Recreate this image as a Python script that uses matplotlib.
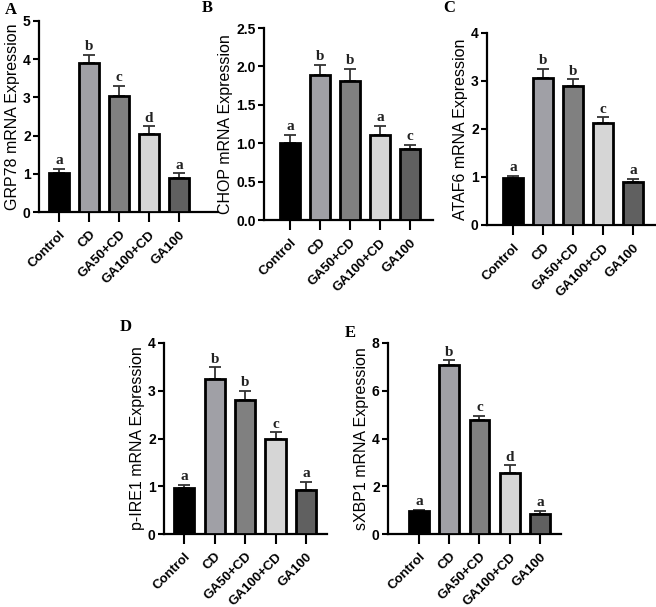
import matplotlib
matplotlib.use("Agg")
import matplotlib.pyplot as plt

groups = ["Control", "CD", "GA50+CD", "GA100+CD", "GA100"]
bar_colors = ["#000000", "#a0a0a6", "#808080", "#d6d6d6", "#606060"]

grp78 = [1.01, 3.91, 3.04, 2.03, 0.88]
grp78_err = [0.12, 0.20, 0.26, 0.22, 0.13]
grp78_sig = ["a", "b", "c", "d", "a"]

chop = [1.00, 1.89, 1.81, 1.11, 0.92]
chop_err = [0.11, 0.13, 0.16, 0.12, 0.06]
chop_sig = ["a", "b", "b", "a", "c"]

ataf6 = [0.98, 3.07, 2.89, 2.13, 0.89]
ataf6_err = [0.05, 0.18, 0.15, 0.11, 0.07]
ataf6_sig = ["a", "b", "b", "c", "a"]

pire1 = [0.97, 3.24, 2.80, 1.98, 0.92]
pire1_err = [0.06, 0.25, 0.20, 0.15, 0.17]
pire1_sig = ["a", "b", "b", "c", "a"]

sxbp1 = [0.98, 7.06, 4.79, 2.57, 0.85]
sxbp1_err = [0.03, 0.22, 0.17, 0.31, 0.13]
sxbp1_sig = ["a", "b", "c", "d", "a"]

W, H = 656, 607
fig = plt.figure(figsize=(W / 100, H / 100), dpi=100)
fig.patch.set_facecolor("white")

panels = [
    dict(letter="A", vals=grp78, err=grp78_err, sig=grp78_sig, ylabel="GRP78 mRNA Expression",
         box=(39, 218, 21, 212), ylim=(0, 5), yticks=[0, 1, 2, 3, 4, 5], fmt="{:.0f}",
         xlim=(-0.67, 5.3), lpos=(5, 10)),
    dict(letter="B", vals=chop, err=chop_err, sig=chop_sig, ylabel="CHOP mRNA Expression",
         box=(264, 433, 28, 220), ylim=(0, 2.5), yticks=[0, 0.5, 1.0, 1.5, 2.0, 2.5], fmt="{:.1f}",
         xlim=(-0.87, 4.77), lpos=(202, 8)),
    dict(letter="C", vals=ataf6, err=ataf6_err, sig=ataf6_sig, ylabel="ATAF6 mRNA Expression",
         box=(487, 655, 33, 225), ylim=(0, 4), yticks=[0, 1, 2, 3, 4], fmt="{:.0f}",
         xlim=(-0.87, 4.73), lpos=(443, 8)),
    dict(letter="D", vals=pire1, err=pire1_err, sig=pire1_sig, ylabel="p-IRE1 mRNA Expression",
         box=(164, 327, 343, 534), ylim=(0, 4), yticks=[0, 1, 2, 3, 4], fmt="{:.0f}",
         xlim=(-0.66, 4.69), lpos=(120, 327)),
    dict(letter="E", vals=sxbp1, err=sxbp1_err, sig=sxbp1_sig, ylabel="sXBP1 mRNA Expression",
         box=(388, 561, 343, 534), ylim=(0, 8), yticks=[0, 2, 4, 6, 8], fmt="{:.0f}",
         xlim=(-1.02, 4.69), lpos=(345, 333)),
]

sans = ["Liberation Sans", "DejaVu Sans"]
serif = ["Liberation Serif", "DejaVu Serif"]

for p in panels:
    x0, x1, y0, y1 = p["box"]
    ax = fig.add_axes([x0 / W, 1 - y1 / H, (x1 - x0) / W, (y1 - y0) / H])
    xs = list(range(len(groups)))
    ax.bar(xs, p["vals"], width=0.66, color=bar_colors, edgecolor="black", linewidth=2.0, zorder=3)
    ax.errorbar(xs, p["vals"], yerr=[[0] * len(xs), p["err"]], fmt="none", ecolor="#333333",
                elinewidth=1.3, capsize=4, capthick=1.3, zorder=2)
    span = p["ylim"][1] - p["ylim"][0]
    for xi, v, e, s in zip(xs, p["vals"], p["err"], p["sig"]):
        ax.text(xi, v + e + span * 0.008, s, ha="center", va="bottom", fontsize=11,
                fontweight="bold", family=serif, color="#222222", zorder=4)
    ax.set_xlim(*p["xlim"])
    ax.set_ylim(*p["ylim"])
    ax.set_yticks(p["yticks"])
    ax.set_yticklabels([p["fmt"].format(t) for t in p["yticks"]], fontsize=10, fontweight="bold", family=sans)
    ax.set_xticks(xs)
    ax.set_xticklabels(groups, rotation=45, ha="right", rotation_mode="anchor", fontsize=9.5,
                       fontweight="bold", family=sans)
    ax.set_ylabel(p["ylabel"], fontsize=11.5, family=sans, labelpad=2)
    for sp in ["top", "right"]:
        ax.spines[sp].set_visible(False)
    for sp in ["left", "bottom"]:
        ax.spines[sp].set_linewidth(1.6)
    ax.tick_params(axis="y", length=4, width=1.5, pad=2)
    ax.tick_params(axis="x", length=7, width=1.5, pad=5)
    ax.set_facecolor("none")
    fig.text(p["lpos"][0] / W, 1 - p["lpos"][1] / H, p["letter"], fontsize=12, fontweight="bold",
             family=serif, ha="left", va="center")

fig.savefig("out.png", dpi=100, facecolor="white")
